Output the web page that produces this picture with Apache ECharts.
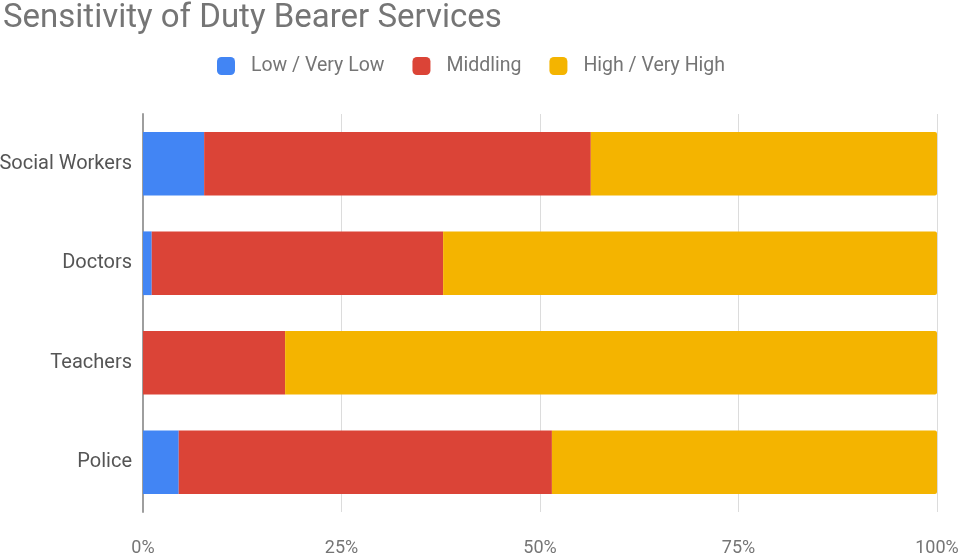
<!DOCTYPE html>
<html>
<head>
<meta charset="utf-8">
<script src="https://cdn.jsdelivr.net/npm/echarts@6/dist/echarts.min.js"></script>
<style>
  html, body { margin: 0; padding: 0; background: #fff; }
  #chart { width: 962px; height: 558px; }
</style>
</head>
<body>
<div id="chart"></div>
<script>
// data (percent of respondents)
var categories = ['Social Workers', 'Doctors', 'Teachers', 'Police'];
var lowVeryLow = [7.7, 1.1, 0, 4.5];
var middling = [48.7, 36.7, 17.9, 47.0];
var highVeryHigh = [43.6, 62.2, 82.1, 48.5];
var tickLabels = ['0%', '25%', '50%', '75%', '100%'];

var dom = document.getElementById('chart');
var myChart = echarts.init(dom);

var font = 'Roboto, "Noto Sans", sans-serif';

var option = {
    animation: false,
    color: ['#4285f4', '#db4437', '#f4b400'],
    title: {
        text: 'Sensitivity of Duty Bearer Services',
        left: -2,
        top: -3,
        textStyle: {
            fontFamily: font,
            fontSize: 33,
            fontWeight: 'normal',
            color: '#757575'
        }
    },
    legend: {
        top: 51,
        left: 212,
        itemWidth: 18,
        itemHeight: 18,
        itemGap: 28,
        icon: 'roundRect',
        textStyle: {
            fontFamily: font,
            fontSize: 19.5,
            color: '#757575',
            padding: [0, 0, 0, 11]
        }
    },
    grid: {
        left: 143,
        right: 25,
        top: 114,
        bottom: 46,
        containLabel: false,
        outerBoundsMode: 'none'
    },
    xAxis: {
        type: 'value',
        min: 0,
        max: 100,
        interval: 25,
        axisLine: { show: false },
        axisTick: { show: false },
        splitLine: { lineStyle: { color: '#dcdcdc', width: 1 } },
        axisLabel: {
            margin: 27,
            fontFamily: font,
            fontSize: 18,
            color: '#757575',
            formatter: function (v) { return tickLabels[v / 25]; }
        }
    },
    yAxis: {
        type: 'category',
        inverse: true,
        data: categories,
        axisLine: { show: true, lineStyle: { color: '#9e9e9e', width: 2 } },
        axisTick: { show: false },
        axisLabel: {
            margin: 11,
            fontFamily: font,
            fontSize: 20,
            color: '#555'
        }
    },
    series: [
        {
            name: 'Low / Very Low',
            type: 'bar',
            stack: 'total',
            barCategoryGap: '36%',
            data: lowVeryLow
        },
        {
            name: 'Middling',
            type: 'bar',
            stack: 'total',
            data: middling
        },
        {
            name: 'High / Very High',
            type: 'bar',
            stack: 'total',
            itemStyle: { borderRadius: [0, 2, 2, 0] },
            data: highVeryHigh
        }
    ]
};

myChart.setOption(option);
</script>
</body>
</html>
